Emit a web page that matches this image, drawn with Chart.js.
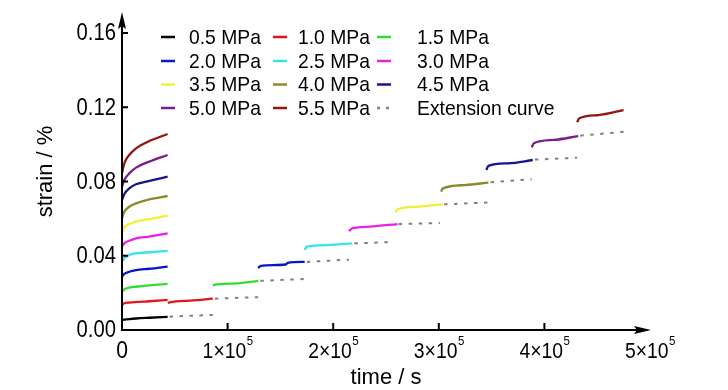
<!DOCTYPE html>
<html>
<head>
<meta charset="utf-8">
<script src="https://cdn.jsdelivr.net/npm/chart.js@4.4.1/dist/chart.umd.min.js"></script>
<style>
  html, body { margin: 0; padding: 0; background: #fff; }
  canvas { display: block; }
</style>
</head>
<body>
<canvas id="creepChart" width="728" height="390"></canvas>
<script>
// stress levels and their line colours
const levels = ['0.5 MPa', '1.0 MPa', '1.5 MPa', '2.0 MPa', '2.5 MPa', '3.0 MPa',
                '3.5 MPa', '4.0 MPa', '4.5 MPa', '5.0 MPa', '5.5 MPa'];
const levelColors = ['#000000', '#e3141c', '#30dd30', '#0a14c8', '#38e4e8', '#ec1fe8',
                     '#f0f03a', '#8a8a28', '#16168a', '#7a1c8a', '#941414'];

// curves of every level re-plotted from t = 0 (time in s, strain in %)
const creepTime = [0, 2200, 6900, 13300, 25900, 43200];
const creepStrain = [
    [0.0054, 0.0056, 0.0059, 0.0062, 0.0066, 0.0071],
    [0.0135, 0.0144, 0.0148, 0.0151, 0.0155, 0.0162],
    [0.0206, 0.0219, 0.0228, 0.0233, 0.0241, 0.0248],
    [0.0287, 0.0302, 0.0314, 0.0323, 0.0330, 0.0342],
    [0.0368, 0.0386, 0.0404, 0.0413, 0.0419, 0.0426],
    [0.0449, 0.0467, 0.0481, 0.0494, 0.0503, 0.0521],
    [0.0521, 0.0553, 0.0571, 0.0584, 0.0598, 0.0616],
    [0.0602, 0.0637, 0.0664, 0.0682, 0.0704, 0.0722],
    [0.0700, 0.0733, 0.0763, 0.0785, 0.0803, 0.0826],
    [0.0772, 0.0808, 0.0844, 0.0875, 0.0907, 0.0943],
    [0.0844, 0.0898, 0.0943, 0.0979, 0.1018, 0.1056]
];

// staircase segments in real loading time (first level has none of its own)
const stepTime = [
    [],
    [43500, 45000, 65000, 86000],
    [86000, 88000, 108000, 129000],
    [129000, 131500, 155000, 157000, 173000],
    [173000, 175000, 195000, 218000],
    [215000, 218000, 235000, 261000],
    [259000, 261000, 280000, 304000],
    [302000, 304000, 325000, 347000],
    [345000, 347000, 366000, 389000],
    [388000, 390000, 409000, 432000],
    [431000, 433000, 451000, 475000]
];
const stepStrain = [
    [],
    [0.0144, 0.0149, 0.0158, 0.0169],
    [0.0239, 0.0244, 0.0251, 0.0265],
    [0.0334, 0.0346, 0.0353, 0.0362, 0.0367],
    [0.0431, 0.0449, 0.0458, 0.0467],
    [0.0533, 0.0548, 0.0557, 0.0571],
    [0.0634, 0.0650, 0.0664, 0.0677],
    [0.0745, 0.0763, 0.0781, 0.0794],
    [0.0862, 0.0884, 0.0898, 0.0916],
    [0.0984, 0.1006, 0.1024, 0.1045],
    [0.1119, 0.1141, 0.1158, 0.1185]
];

// extension curves (dotted), one piece after each level
const extTime = [
    [45000, 86000], [88000, 129000], [131000, 173000], [175000, 215000], [220000, 258000],
    [262000, 301000], [305000, 346000], [349000, 388000], [391000, 431000], [434000, 475000]
];
const extStrain = [
    [0.0072, 0.0081], [0.0169, 0.0177], [0.0265, 0.0275], [0.0367, 0.0379], [0.0467, 0.0474],
    [0.0571, 0.0576], [0.0677, 0.0687], [0.0796, 0.0812], [0.0918, 0.0928], [0.1047, 0.1068]
];

const xTickValues = [0, 100000, 200000, 300000, 400000, 500000];
const yTickValues = [0, 0.04, 0.08, 0.12, 0.16];

const FONT = '"Liberation Sans", Arial, sans-serif';

// the figure's lettering is a bit narrower than Arial, so squeeze it sideways
function squeezedText(ctx, text, x, y, size, sx, align) {
    ctx.save();
    ctx.font = size + 'px ' + FONT;
    const w = ctx.measureText(text).width * sx;
    let left = x;
    if (align === 'center') left = x - w / 2;
    if (align === 'right') left = x - w;
    ctx.translate(left, y);
    ctx.scale(sx, 1);
    ctx.textAlign = 'left';
    ctx.fillText(text, 0, 0);
    ctx.restore();
    return w;
}

// build datasets
const datasets = levels.map((label, i) => {
    const pts = creepTime.map((t, k) => ({ x: t, y: creepStrain[i][k] }));
    if (stepTime[i].length) {
        pts.push({ x: stepTime[i][0] - 100, y: null });
        stepTime[i].forEach((t, k) => pts.push({ x: t, y: stepStrain[i][k] }));
    }
    return {
        label: label,
        data: pts,
        borderColor: levelColors[i],
        borderWidth: 2.3,
        order: 0
    };
});

const extPoints = [];
extTime.forEach((seg, i) => {
    if (i > 0) extPoints.push({ x: seg[0] - 100, y: null });
    seg.forEach((t, k) => extPoints.push({ x: t, y: extStrain[i][k] }));
});
datasets.push({
    label: 'Extension curve',
    data: extPoints,
    borderColor: '#808080',
    borderWidth: 2,
    borderDash: [3.5, 6.5],
    cubicInterpolationMode: 'default',
    tension: 0,
    order: 1
});

// axes with arrows, inward ticks, tick labels, and a 3-column legend
const decorPlugin = {
    id: 'decor',
    afterDraw(chart) {
        const ctx = chart.ctx;
        const xs = chart.scales.x, ys = chart.scales.y;
        const x0 = xs.getPixelForValue(0), y0 = ys.getPixelForValue(0);
        const xEnd = xs.getPixelForValue(500000) + 1;
        const yEnd = chart.chartArea.top - 1;
        ctx.save();
        ctx.strokeStyle = '#000';
        ctx.fillStyle = '#000';
        ctx.lineWidth = 2;
        ctx.beginPath();
        ctx.moveTo(x0, y0 + 1);
        ctx.lineTo(x0, yEnd + 12);
        ctx.moveTo(x0 - 1, y0);
        ctx.lineTo(xEnd - 12, y0);
        // ticks
        yTickValues.slice(1).forEach(v => {
            const p = ys.getPixelForValue(v);
            ctx.moveTo(x0, p);
            ctx.lineTo(x0 + 6, p);
        });
        xTickValues.slice(1, -1).forEach(v => {
            const p = xs.getPixelForValue(v);
            ctx.moveTo(p, y0);
            ctx.lineTo(p, y0 - 7);
        });
        ctx.stroke();
        // arrow heads
        ctx.beginPath();
        ctx.moveTo(x0, yEnd);
        ctx.lineTo(x0 + 4, yEnd + 17);
        ctx.lineTo(x0, yEnd + 14);
        ctx.lineTo(x0 - 4, yEnd + 17);
        ctx.closePath();
        ctx.fill();
        ctx.beginPath();
        ctx.moveTo(xEnd, y0);
        ctx.lineTo(xEnd - 17, y0 - 4);
        ctx.lineTo(xEnd - 14, y0);
        ctx.lineTo(xEnd - 17, y0 + 4);
        ctx.closePath();
        ctx.fill();

        // y tick labels
        ctx.textBaseline = 'middle';
        yTickValues.forEach(v => {
            squeezedText(ctx, v.toFixed(2), x0 - 6, ys.getPixelForValue(v) + 1, 23, 0.88, 'right');
        });

        // x tick labels like 1x10^5
        ctx.textBaseline = 'alphabetic';
        xTickValues.forEach(v => {
            const p = xs.getPixelForValue(v);
            if (v === 0) {
                squeezedText(ctx, '0', p, 358, 24, 0.88, 'center');
                return;
            }
            const main = (v / 1e5) + '\u00d710';
            ctx.font = '22px ' + FONT;
            const wm = ctx.measureText(main).width * 0.88;
            ctx.font = '13px ' + FONT;
            const ws = ctx.measureText('5').width * 0.88;
            const start = p - (wm + ws) / 2;
            squeezedText(ctx, main, start, 358, 22, 0.88, 'left');
            squeezedText(ctx, '5', start + wm + 0.5, 345, 13, 0.88, 'left');
        });

        // legend
        const lineX = [161, 273, 377];
        const textX = [189, 298, 417];
        const rowY = [37, 61, 84.5, 108];
        ctx.textBaseline = 'middle';
        chart.data.datasets.forEach((ds, d) => {
            const r = Math.floor(d / 3), c = d % 3;
            ctx.beginPath();
            ctx.strokeStyle = ds.borderColor;
            ctx.lineWidth = 2.5;
            ctx.setLineDash(ds.borderDash ? [3, 6] : []);
            ctx.moveTo(lineX[c], rowY[r]);
            ctx.lineTo(lineX[c] + 14, rowY[r]);
            ctx.stroke();
            ctx.setLineDash([]);
            ctx.fillStyle = '#000';
            squeezedText(ctx, ds.label, textX[c], rowY[r] + 1, 21, 0.92, 'left');
        });
        ctx.restore();
    }
};

const ctx = document.getElementById('creepChart').getContext('2d');
const creepChart = new Chart(ctx, {
    type: 'line',
    data: { datasets: datasets },
    options: {
        responsive: false,
        animation: false,
        layout: { padding: { top: 13, right: 78, bottom: 0, left: 0 } },
        elements: {
            point: { radius: 0 },
            line: { cubicInterpolationMode: 'monotone', borderCapStyle: 'butt' }
        },
        plugins: {
            legend: { display: false },
            tooltip: { enabled: false }
        },
        scales: {
            x: {
                type: 'linear',
                min: 0,
                max: 500000,
                grid: { display: false },
                border: { display: false },
                ticks: { display: false },
                title: {
                    display: true,
                    text: 'time / s',
                    color: '#000',
                    font: { family: FONT, size: 22 },
                    padding: { top: 0, bottom: -1 }
                },
                afterFit: s => { s.height = 60; }
            },
            y: {
                min: 0,
                max: 0.1708,
                grid: { display: false },
                border: { display: false },
                ticks: { display: false },
                afterBuildTicks: s => { s.ticks = yTickValues.map(v => ({ value: v })); },
                title: {
                    display: true,
                    text: 'strain / %',
                    color: '#000',
                    font: { family: FONT, size: 22 },
                    padding: { top: 33, bottom: 0 }
                },
                afterFit: s => { s.width = 122; }
            }
        }
    },
    plugins: [decorPlugin]
});
</script>
</body>
</html>
